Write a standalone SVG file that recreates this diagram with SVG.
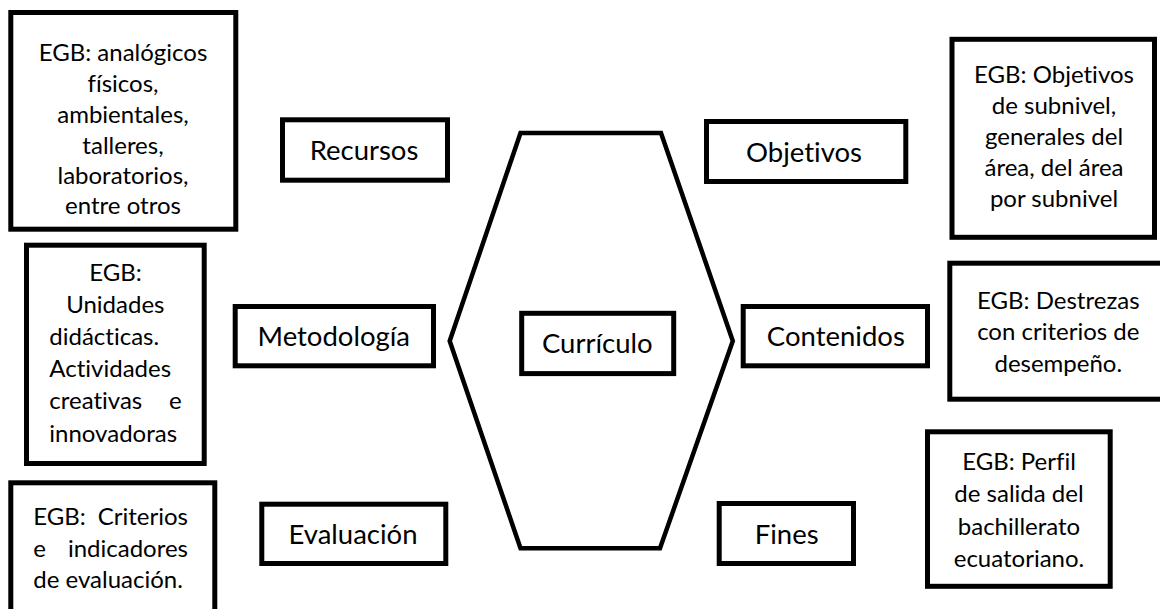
<svg xmlns="http://www.w3.org/2000/svg" width="1160" height="609" viewBox="0 0 1160 609">
<style>
  .box { fill: #ffffff; stroke: #000000; stroke-width: 5; }
  .hex { fill: #ffffff; stroke: #000000; stroke-width: 4.5; stroke-linejoin: miter; }
  text { font-variant-ligatures: none; font-feature-settings: "liga" 0, "clig" 0; }
  .lbl { font-family: Lato, "Liberation Sans", sans-serif; font-size: 27.5px; fill: #000000; text-anchor: middle; }
  .det { font-family: Lato, "Liberation Sans", sans-serif; font-size: 24px; fill: #000000; }
  .c { text-anchor: middle; }
  .s { text-anchor: start; }
  .e { text-anchor: end; }
</style>
<rect x="0" y="0" width="1160" height="609" fill="#ffffff"/>
<g id="connectors"></g>

<g id="curriculo-hex">
  <polygon class="hex" points="520.5,133 661,133 732.8,341 660,548.3 520.5,548.3 449.7,341"/>
</g>
<g id="curriculo">
  <rect class="box" x="521.7" y="313.3" width="152" height="60.3" stroke-width="4.7"/>
  <text class="lbl" x="597.3" y="352.5">Currículo</text>
</g>

<g id="recursos">
  <rect class="box" x="282.5" y="119.8" width="165" height="60.4"/>
  <text class="lbl" x="364" y="160">Recursos</text>
</g>
<g id="metodologia">
  <rect class="box" x="235.2" y="306.5" width="198.3" height="59.3"/>
  <text class="lbl" x="333.8" y="346">Metodología</text>
</g>
<g id="evaluacion">
  <rect class="box" x="261.8" y="504.2" width="184" height="59.3"/>
  <text class="lbl" x="353" y="544">Evaluación</text>
</g>
<g id="objetivos">
  <rect class="box" x="706.5" y="121.5" width="199.3" height="60"/>
  <text class="lbl" x="804" y="161.5">Objetivos</text>
</g>
<g id="contenidos">
  <rect class="box" x="743.2" y="306.5" width="184.3" height="59.3"/>
  <text class="lbl" x="835.8" y="346">Contenidos</text>
</g>
<g id="fines">
  <rect class="box" x="719.2" y="503.5" width="134.3" height="60"/>
  <text class="lbl" x="786.7" y="543.5">Fines</text>
</g>

<g id="recursos-detalle">
  <rect class="box" x="10.8" y="12.5" width="225" height="216.7"/>
  <text class="det c" x="123" y="61">EGB: analógicos</text>
  <text class="det c" x="123" y="91.5">físicos,</text>
  <text class="det c" x="123" y="122.5">ambientales,</text>
  <text class="det c" x="123" y="153.5">talleres,</text>
  <text class="det c" x="123" y="184">laboratorios,</text>
  <text class="det c" x="123" y="213.5">entre otros</text>
</g>

<g id="metodologia-detalle">
  <rect class="box" x="26.5" y="245.2" width="177.7" height="218.3"/>
  <text class="det c" x="115.5" y="280.7">EGB:</text>
  <text class="det c" x="115.3" y="312.7">Unidades</text>
  <text class="det s" x="49.3" y="345">didácticas.</text>
  <text class="det s" x="49.3" y="377">Actividades</text>
  <text class="det s" x="49.3" y="409">creativas</text>
  <text class="det e" x="181.7" y="409">e</text>
  <text class="det s" x="49.3" y="441.5">innovadoras</text>
</g>

<g id="evaluacion-detalle">
  <rect class="box" x="10.8" y="482.8" width="204" height="140"/>
  <text class="det s" x="33.3" y="525">EGB:</text>
  <text class="det e" x="188" y="525">Criterios</text>
  <text class="det s" x="33.3" y="556.5">e</text>
  <text class="det e" x="188" y="556.5">indicadores</text>
  <text class="det s" x="33.3" y="587.5">de evaluación.</text>
</g>

<g id="objetivos-detalle">
  <rect class="box" x="952" y="39.3" width="202.5" height="198"/>
  <text class="det c" x="1054" y="82.7">EGB: Objetivos</text>
  <text class="det c" x="1054" y="113.8">de subnivel,</text>
  <text class="det c" x="1054" y="145">generales del</text>
  <text class="det c" x="1054" y="176">área, del área</text>
  <text class="det c" x="1054" y="207">por subnivel</text>
</g>

<g id="contenidos-detalle">
  <rect class="box" x="949.8" y="263.2" width="215" height="136"/>
  <text class="det c" x="1058.3" y="308.5">EGB: Destrezas</text>
  <text class="det c" x="1058.3" y="340">con criterios de</text>
  <text class="det c" x="1058.3" y="371.5">desempeño.</text>
</g>

<g id="fines-detalle">
  <rect class="box" x="927.5" y="431.8" width="182.7" height="154.5"/>
  <text class="det c" x="1019" y="470">EGB: Perfil</text>
  <text class="det c" x="1019" y="502">de salida del</text>
  <text class="det c" x="1019" y="534.5">bachillerato</text>
  <text class="det c" x="1019" y="566.5">ecuatoriano.</text>
</g>
</svg>
